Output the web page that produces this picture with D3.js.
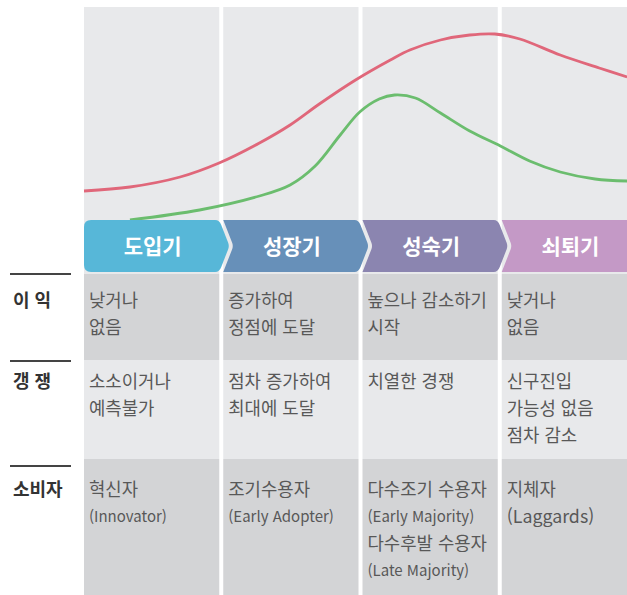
<!DOCTYPE html>
<html lang="ko">
<head>
    <meta charset="UTF-8">
    <title>제품 수명 주기</title>
    <script src="https://cdn.jsdelivr.net/npm/d3@7"></script>
    <style>
        body { margin: 0; background: #fff; }
        text { font-family: "Noto Sans CJK KR", "Noto Sans", sans-serif; }
        .stage-label { fill: #fff; font-size: 21px; font-weight: 700; }
        .row-label { fill: #333; font-size: 18px; font-weight: 700; }
        .cell-text { fill: #585858; font-size: 17.8px; }
    </style>
</head>
<body>
<script>
    // 단계
    const stages = ['도입기', '성장기', '성숙기', '쇠퇴기'];
    // 행 제목
    const rowLabels = ['이 익', '갱 쟁', '소비자'];

    // 표 내용 (단계별)
    const profitText = [['낮거나', '없음'], ['증가하여', '정점에 도달'], ['높으나 감소하기', '시작'], ['낮거나', '없음']];
    const competitionText = [['소소이거나', '예측불가'], ['점차 증가하여', '최대에 도달'], ['치열한 경쟁'], ['신구진입', '가능성 없음', '점차 감소']];
    const consumerText = [['혁신자', '(Innovator)'], ['조기수용자', '(Early Adopter)'],
        ['다수조기 수용자', '(Early Majority)', '다수후발 수용자', '(Late Majority)'], ['지체자', '(Laggards)']];

    // 곡선: x = 단계 진행(0~4), y = 상대값(0~100)
    const salesCurve = [[0, 14.5], [0.33, 16.5], [0.69, 21.5], [0.97, 28.5], [1.26, 38.5], [1.48, 47.5],
        [1.69, 58], [1.95, 70], [2.2, 80], [2.34, 85], [2.56, 90], [2.77, 92.5], [2.95, 93], [3.13, 90.5],
        [3.42, 82.5], [3.7, 76], [3.9, 71.5]];
    const profitCurve = [[0.33, 0], [0.83, 5], [1.26, 12], [1.48, 17.5], [1.66, 27], [1.84, 42.5],
        [1.98, 54], [2.12, 60.5], [2.23, 62.5], [2.38, 61], [2.56, 53.5], [2.77, 44.5], [2.99, 37],
        [3.2, 29.5], [3.42, 24], [3.67, 20.5], [3.9, 19.5]];

    const width = 627;
    const height = 595;

    const stageColors = ['#57b7d8', '#6790b9', '#8b85b0', '#c499c6'];
    const rows = [
        {top: 274, bottom: 360, fill: '#d3d4d6', textY: 301, lineY: 274},
        {top: 360, bottom: 459, fill: '#e8e9eb', textY: 382, lineY: 361},
        {top: 459, bottom: 595, fill: '#d3d4d6', textY: 490, lineY: 466}
    ];
    const rowTexts = [profitText, competitionText, consumerText];
    const lineHeight = 26.8;

    const svg = d3.select('body')
        .append('svg')
        .attr('width', width)
        .attr('height', height);

    // 단계 열 (밴드 스케일)
    const xBand = d3.scaleBand()
        .domain(stages)
        .range([84, 637])
        .paddingInner(0.0287);
    const step = xBand.step();
    const bw = xBand.bandwidth();

    // 곡선용 스케일
    const x = d3.scaleLinear().domain([0, 4]).range([84, 84 + 4 * step]);
    const y = d3.scaleLinear().domain([0, 100]).range([220, 20]);

    // 상단 회색 배경
    svg.selectAll('.col-bg')
        .data(stages)
        .enter()
        .append('rect')
        .attr('x', d => xBand(d))
        .attr('y', 7)
        .attr('width', bw)
        .attr('height', 274 - 7)
        .attr('fill', '#e8e9eb');

    // 표 셀 배경
    rows.forEach(function (r) {
        svg.append('g').selectAll('rect')
            .data(stages)
            .enter()
            .append('rect')
            .attr('x', d => xBand(d))
            .attr('y', r.top)
            .attr('width', bw)
            .attr('height', r.bottom - r.top)
            .attr('fill', r.fill);
    });

    // 곡선
    const line = d3.line()
        .x(d => x(d[0]))
        .y(d => y(d[1]))
        .curve(d3.curveCatmullRom.alpha(0.5));

    svg.append('path')
        .datum(salesCurve)
        .attr('d', line)
        .attr('fill', 'none')
        .attr('stroke', '#e0677a')
        .attr('stroke-width', 2.8);

    svg.append('path')
        .datum(profitCurve)
        .attr('d', line)
        .attr('fill', 'none')
        .attr('stroke', '#6bbd6e')
        .attr('stroke-width', 2.8);

    // 단계 화살표 모양
    const y0 = 220, y1 = 272, ym = 246, depth = 10;
    function chevron(d, i) {
        const x0 = xBand(d), x1 = x0 + bw;
        const p = d3.path();
        if (i === 0) {
            p.moveTo(x0, y0 + 7);
            p.quadraticCurveTo(x0, y0, x0 + 7, y0);
        } else {
            p.moveTo(x0, y0);
        }
        p.lineTo(x1 - 4, y0);
        p.quadraticCurveTo(x1, y0, x1 + 2, y0 + 5);
        p.lineTo(x1 + depth - 1, ym - 3);
        p.quadraticCurveTo(x1 + depth, ym, x1 + depth - 1, ym + 3);
        p.lineTo(x1 + 2, y1 - 5);
        p.quadraticCurveTo(x1, y1, x1 - 4, y1);
        if (i === 0) {
            p.lineTo(x0 + 7, y1);
            p.quadraticCurveTo(x0, y1, x0, y1 - 7);
        } else {
            p.lineTo(x0, y1);
            p.lineTo(x0 + depth - 1, ym + 3);
            p.quadraticCurveTo(x0 + depth, ym, x0 + depth - 1, ym - 3);
        }
        p.closePath();
        return p.toString();
    }

    svg.selectAll('.stage')
        .data(stages)
        .enter()
        .append('path')
        .attr('class', 'stage')
        .attr('d', chevron)
        .attr('fill', (d, i) => stageColors[i]);

    svg.selectAll('.stage-label')
        .data(stages)
        .enter()
        .append('text')
        .attr('class', 'stage-label')
        .attr('x', d => xBand(d) + bw / 2 + 1)
        .attr('y', ym)
        .attr('dy', '0.36em')
        .attr('text-anchor', 'middle')
        .text(d => d);

    // 왼쪽 행 제목
    rows.forEach(function (r, i) {
        svg.append('line')
            .attr('x1', 10)
            .attr('x2', 71)
            .attr('y1', r.lineY)
            .attr('y2', r.lineY)
            .attr('stroke', '#444')
            .attr('stroke-width', 2);
        svg.append('text')
            .attr('class', 'row-label')
            .attr('x', 13)
            .attr('y', r.textY)
            .attr('dy', '0.36em')
            .text(rowLabels[i]);
    });

    // 셀 글자
    rows.forEach(function (r, ri) {
        rowTexts[ri].forEach(function (lines, si) {
            const g = svg.append('g');
            g.selectAll('text')
                .data(lines)
                .enter()
                .append('text')
                .attr('class', 'cell-text')
                .attr('x', xBand(stages[si]) + 5)
                .attr('y', (d, k) => r.textY + k * lineHeight)
                .attr('dy', '0.36em')
                .style('font-size', d => (d[0] === '(' && si < 3) ? '15px' : null)
                .text(d => d);
        });
    });
</script>
</body>
</html>
